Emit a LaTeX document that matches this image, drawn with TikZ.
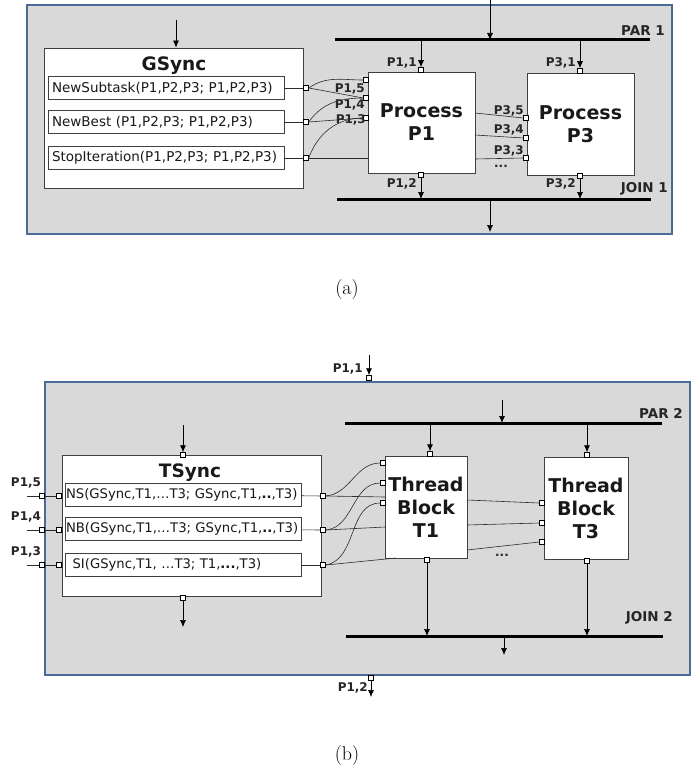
\documentclass[tikz,border=0pt]{standalone}
\usepackage{fontspec}
\setsansfont{DejaVu Sans}
\usepackage{xcolor}
\usetikzlibrary{arrows.meta,positioning}

\definecolor{framecol}{HTML}{4A6B98}
\definecolor{panelgray}{HTML}{D9D9D9}
\definecolor{wirecol}{HTML}{2B2B2B}

\tikzset{
  panel/.style={draw=framecol, line width=2pt, fill=panelgray},
  block/.style={draw=black!75, fill=white, line width=0.8pt, inner sep=0pt},
  call/.style={draw=black!75, fill=white, line width=0.8pt,
    font=\sffamily\fontsize{13.5}{15}\selectfont, text=black!90,
    text width=228pt, inner xsep=4pt, inner ysep=0pt, minimum height=23pt, align=left},
  callB/.style={call, font=\sffamily\fontsize{13.2}{15}\selectfont,
    text width=234pt, inner xsep=1pt},
  title/.style={font=\sffamily\bfseries\fontsize{18.5}{20}\selectfont, text=black!90, inner sep=0pt},
  proc/.style={font=\sffamily\bfseries\fontsize{19}{23}\selectfont, text=black!90, align=center},
  port/.style={draw=black, fill=white, minimum size=5pt, inner sep=0pt, line width=0.5pt},
  bar/.style={line width=3pt},
  flow/.style={-{Latex[length=7pt,width=6pt]}, line width=0.7pt},
  wire/.style={line width=0.6pt, draw=wirecol},
  pin/.style={font=\sffamily\bfseries\fontsize{12}{13}\selectfont, text=black!85, inner sep=0pt},
  barlbl/.style={font=\sffamily\bfseries\fontsize{13.5}{15}\selectfont, text=black!85, inner sep=0pt},
  caption/.style={font=\fontsize{20}{24}\selectfont, inner sep=0pt}
}

\begin{document}
\begin{tikzpicture}[x=1pt,y=-1pt]
\useasboundingbox (0,0) rectangle (692,776);

% Panel (a): GSync with processes P1 ... P3
\draw[panel] (27,5) rectangle (672,234);

\node[block, minimum width=259pt, minimum height=140pt] (gsync) at (173.5,118) {};
\node[title] (gsynct) at (174,66) {GSync};
\node[call] (nsA) at (166,88) {NewSubtask(P1,P2,P3; P1,P2,P3)};
\node[call] (nbA) at (166,122) {NewBest (P1,P2,P3; P1,P2,P3)};
\node[call] (siA) at (166,158) {StopIteration(P1,P2,P3; P1,P2,P3)};
\node[port] (ga1) at (306,88) {};
\node[port] (ga2) at (306,122) {};
\node[port] (ga3) at (306,158) {};
\draw[wire] (nsA) -- (ga1);
\draw[wire] (nbA) -- (ga2);
\draw[wire] (siA) -- (ga3);
\coordinate (gin) at (176,20);
\draw[flow] (gin) -- (gsync.north -| gin);

\node[block, proc, minimum width=107pt, minimum height=101pt] (p1) at (421.5,122.5) {Process\\P1};
\node[block, proc, minimum width=107pt, minimum height=102pt] (p3) at (580.5,124) {Process\\P3};

% fork and join bars
\coordinate (parAw) at (335,40);
\coordinate (parAe) at (650,40);
\coordinate (joinAw) at (337,199);
\coordinate (joinAe) at (651,199);
\draw[bar] (parAw) -- (parAe);
\draw[bar] (joinAw) -- (joinAe);
\node[barlbl, anchor=east] (parAl) at (665,31) {PAR 1};
\node[barlbl, anchor=east] (joinAl) at (668,189) {JOIN 1};
\coordinate (inA) at (490,0);
\coordinate (outA) at (490,232);
\draw[flow] (inA) -- (inA |- parAw);
\draw[flow] (outA |- joinAw) -- (outA);

% top and bottom ports
\node[port] (p1n) at (421,70) {};
\node[port] (p3n) at (580,71) {};
\node[port] (p1s) at (421,175) {};
\node[port] (p3s) at (580,176) {};
\draw[flow] (p1n |- parAw) -- (p1n.north);
\draw[flow] (p3n |- parAw) -- (p3n.north);
\draw[flow] (p1s.south) -- (p1s |- joinAw);
\draw[flow] (p3s.south) -- (p3s |- joinAw);
\node[pin, anchor=east] at (417,63) {P1,1};
\node[pin, anchor=east] at (576,63) {P3,1};
\node[pin, anchor=east] at (417,184) {P1,2};
\node[pin, anchor=east] at (576,184) {P3,2};

% message ports of P1
\node[port] (p15) at (366,80) {};
\node[port] (p14) at (366,98) {};
\node[port] (p13) at (366,118) {};
\node[pin, anchor=east] at (365,89) {P1,5};
\node[pin, anchor=east] at (365,105) {P1,4};
\node[pin, anchor=east] at (366,120) {P1,3};
\draw[wire] (ga1.east) to[out=35,in=180] (p15.west);
\draw[wire] (ga1.east) -- (p14.west);
\draw[wire] (ga2.east) to[out=55,in=180] (p14.west);
\draw[wire] (ga2.east) -- (p13.west);
\draw[wire] (ga3.east) to[out=70,in=180] (p13.west);
\draw[wire] (ga3.east) -- (ga3 -| p1.west);

% message ports of P3
\node[port] (p35) at (526,118) {};
\node[port] (p34) at (526,138) {};
\node[port] (p33) at (526,158) {};
\coordinate (p1e5) at (475,113);
\coordinate (p1e4) at (475,135);
\coordinate (p1e3) at (475,159);
\draw[wire] (p1e5) -- (p35.west);
\draw[wire] (p1e4) -- (p34.west);
\draw[wire] (p1e3) -- (p33.west);
\node[pin, anchor=east] at (524,111) {P3,5};
\node[pin, anchor=east] at (524,130) {P3,4};
\node[pin, anchor=east] at (524,151) {P3,3};
\node[pin] (dotsA) at (501,166) {...};

\node[caption] (capa) at (347,290) {(a)};

% Panel (b): TSync with thread blocks T1 ... T3
\draw[panel] (45,382) rectangle (690,675);

\node[block, minimum width=259pt, minimum height=141pt] (tsync) at (191.5,525.5) {};
\node[title] (tsynct) at (190,473) {TSync};
\node[callB] (nsB) at (183,494.5) {NS(GSync,T1,…T3; GSync,T1,\textbf{..},T3)};
\node[callB] (nbB) at (183,529) {NB(GSync,T1,…T3; GSync,T1,\textbf{..},T3)};
\node[callB] (siB) at (183,565) {\ \,SI(GSync,T1, …T3; T1,\textbf{...},T3)};

% TSync ports
\node[port] (tn) at (183,455) {};
\node[port] (ts) at (183,598) {};
\coordinate (tin) at (183,425);
\coordinate (tout) at (183,627);
\draw[flow] (tin) -- (tn.north);
\draw[flow] (ts.south) -- (tout);
\foreach \i/\y/\lab in {1/496/{P1,5}, 2/530/{P1,4}, 3/565/{P1,3}}{
  \node[port] (fb\i) at (42,\y) {};
  \node[port] (tw\i) at (59,\y) {};
  \node[port] (te\i) at (323,\y) {};
  \coordinate (lin\i) at (27,\y);
  \draw[wire] (lin\i) -- (fb\i.west);
  \draw[wire] (fb\i.east) -- (tw\i.west);
  \node[pin] at (26,\y-13) {\lab};
}
\draw[wire] (nsB) -- (te1);
\draw[wire] (nbB) -- (te2);
\draw[wire] (siB) -- (te3);

% thread blocks
\node[block, proc, minimum width=82pt, minimum height=102pt] (t1) at (426,507) {Thread\\Block\\T1};
\node[block, proc, minimum width=84pt, minimum height=102pt] (t3) at (586,508) {Thread\\Block\\T3};

\coordinate (parBw) at (345,423);
\coordinate (parBe) at (662,423);
\coordinate (joinBw) at (346,636);
\coordinate (joinBe) at (663,636);
\draw[bar] (parBw) -- (parBe);
\draw[bar] (joinBw) -- (joinBe);
\node[barlbl, anchor=east] (parBl) at (683,413) {PAR 2};
\node[barlbl, anchor=east] (joinBl) at (673,618) {JOIN 2};
\coordinate (inB) at (502,400);
\coordinate (outB) at (504,655);
\draw[flow] (inB) -- (inB |- parBw);
\draw[flow] (outB |- joinBw) -- (outB);

\node[port] (t1n) at (430,454) {};
\node[port] (t3n) at (587,455) {};
\node[port] (t1s) at (427,560) {};
\node[port] (t3s) at (587,561) {};
\draw[flow] (t1n |- parBw) -- (t1n.north);
\draw[flow] (t3n |- parBw) -- (t3n.north);
\draw[flow] (t1s.south) -- (t1s |- joinBw);
\draw[flow] (t3s.south) -- (t3s |- joinBw);

% P1,1 and P1,2 on the frame
\node[port] (fbn) at (369,378) {};
\node[port] (fbs) at (371,678) {};
\coordinate (fin) at (369,355);
\coordinate (fout) at (371,697);
\draw[flow] (fin) -- (fbn.north);
\draw[flow] (fbs.south) -- (fout);
\node[pin, anchor=east] at (363,369) {P1,1};
\node[pin, anchor=east] at (368,688) {P1,2};

% message ports of T1
\node[port] (t1w1) at (383,463) {};
\node[port] (t1w2) at (383,483) {};
\node[port] (t1w3) at (383,503) {};
\draw[wire] (te1.east) to[out=5,in=180] (t1w1.west);
\draw[wire] (te1.east) -- (385,497);
\draw[wire] (te2.east) to[out=5,in=180] (t1w2.west);
\draw[wire] (te2.east) -- (385,527);
\draw[wire] (te3.east) to[out=10,in=180] (t1w3.west);
\draw[wire] (te3.east) -- (396,558);

% message ports of T3
\node[port] (t3w1) at (542,503) {};
\node[port] (t3w2) at (542,523) {};
\node[port] (t3w3) at (542,542) {};
\coordinate (t1e1) at (467,500);
\coordinate (t1e2) at (467,525);
\coordinate (t1e3) at (467,550);
\draw[wire] (t1e1) -- (t3w1.west);
\draw[wire] (t1e2) -- (t3w2.west);
\draw[wire] (t1e3) -- (t3w3.west);
\node[pin] (dotsB) at (502,555) {...};

\node[caption] (capb) at (347,756) {(b)};
\end{tikzpicture}
\end{document}
